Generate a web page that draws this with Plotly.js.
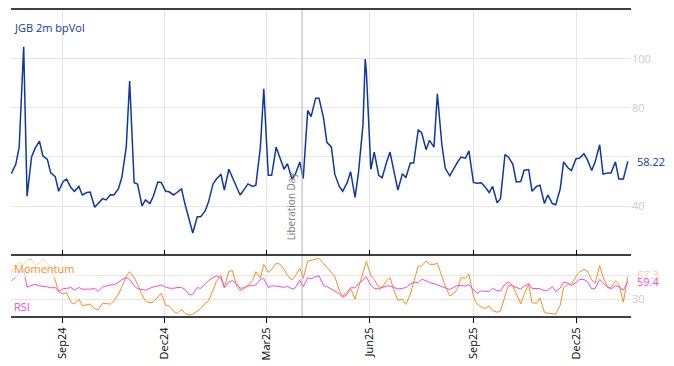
<!DOCTYPE html>
<html>
<head>
<meta charset="utf-8">
<script src="https://cdn.plot.ly/plotly-3.0.1.min.js"></script>
<style>html,body{margin:0;padding:0;background:#fff;}#chart{width:674px;height:366px;}</style>
</head>
<body>
<div id="chart"></div>
<script>
const dates = [
'2024-07-18','2024-07-22','2024-07-25','2024-07-29','2024-08-01','2024-08-05','2024-08-08','2024-08-12','2024-08-15','2024-08-19','2024-08-22','2024-08-26','2024-08-29',
'2024-09-02','2024-09-05','2024-09-09','2024-09-12','2024-09-16','2024-09-19','2024-09-23','2024-09-26','2024-09-30',
'2024-10-03','2024-10-07','2024-10-10','2024-10-14','2024-10-17','2024-10-21','2024-10-24','2024-10-28','2024-10-31',
'2024-11-04','2024-11-07','2024-11-11','2024-11-14','2024-11-18','2024-11-21','2024-11-25','2024-11-28',
'2024-12-02','2024-12-05','2024-12-09','2024-12-12','2024-12-16','2024-12-19','2024-12-23','2024-12-26','2024-12-30',
'2025-01-02','2025-01-06','2025-01-09','2025-01-13','2025-01-16','2025-01-20','2025-01-23','2025-01-27','2025-01-30',
'2025-02-03','2025-02-06','2025-02-10','2025-02-13','2025-02-17','2025-02-20','2025-02-24','2025-02-27',
'2025-03-03','2025-03-06','2025-03-10','2025-03-13','2025-03-17','2025-03-20','2025-03-24','2025-03-27','2025-03-31',
'2025-04-03','2025-04-07','2025-04-10','2025-04-14','2025-04-17','2025-04-21','2025-04-24','2025-04-28',
'2025-05-01','2025-05-05','2025-05-08','2025-05-12','2025-05-15','2025-05-19','2025-05-22','2025-05-26','2025-05-28','2025-05-29',
'2025-06-02','2025-06-05','2025-06-09','2025-06-12','2025-06-16','2025-06-19','2025-06-23','2025-06-26','2025-06-30',
'2025-07-03','2025-07-07','2025-07-10','2025-07-14','2025-07-17','2025-07-21','2025-07-24','2025-07-28','2025-07-31',
'2025-08-04','2025-08-07','2025-08-11','2025-08-14','2025-08-18','2025-08-21','2025-08-25','2025-08-28',
'2025-09-01','2025-09-04','2025-09-08','2025-09-11','2025-09-15','2025-09-18','2025-09-22','2025-09-25','2025-09-29',
'2025-10-02','2025-10-06','2025-10-09','2025-10-13','2025-10-16','2025-10-20','2025-10-23','2025-10-27','2025-10-30',
'2025-11-03','2025-11-06','2025-11-10','2025-11-13','2025-11-17','2025-11-20','2025-11-24','2025-11-27',
'2025-12-01','2025-12-04','2025-12-08','2025-12-11','2025-12-15','2025-12-18','2025-12-22','2025-12-25','2025-12-29',
'2026-01-01','2026-01-05','2026-01-08','2026-01-12','2026-01-16'
];

const bpVol = [
53.2,57,64,105,44,60,63.4,66.5,60.5,59,53.5,52,46,
50,51,47.4,46,48,44.5,45.5,45.7,39.5,
41,43,42.5,44.6,44.5,47,51.5,64,91,
49.5,49,40,42.5,41,44,49.8,49.6,
46,45.8,44.5,45.5,47,41,33.5,29,35.6,
35.6,38,41.7,49,51,53,46.5,55,52,
47.5,44.5,47,49,48,48.5,64,87.8,
52.5,52.5,64,60,55,57.3,51,53,58,
51.2,79,76.5,84,84,76,66,64,
53,48,46,49.5,54,43.5,53.5,73,100,95,
55,62,52.5,51.5,58,62,53,46.5,53.2,
51.5,57.5,57.5,71,70,63,66.8,64,85.8,
65,55.4,52.3,55,58,60,59.5,62.5,
49.6,49.3,49.5,48,45.5,48,41.3,43,61,
60,57,49.8,50,54.6,54.9,46,48,48.5,
41,44.5,41,40.5,47,58,55.5,54.5,
59.3,59.5,61.3,59,54.5,58,65,53,53.5,
53.5,58,51,51,58.22
];

const momentum = [
75,82,92,88,95,97,88,90,97,90,82,62,42,
39,41,24.4,21.7,30,18.9,20,21.7,14,
12,23,22,21.7,27,38,50,69,76,
66,55,37,27,24,25,33,40,
20,18,10,6,13,6,3,5,10,
14,22.8,27,45,60,70,49.4,76,78,
52,44,48,54,60.6,76,65,88,
75,80,90,89,80,70,62,69,81.5,
65,93.9,95,97,98.3,90,83,75,
68,45,34.5,42.5,48,30,49,77,88,93,
70,63,50,50,61,66,42,28,30,
21,38,60,85,85.6,93.9,88.5,88.3,90,
70,52,35.6,38,48,66,65,71.7,
35,22,17,14,18,11,8,10,35,
53.5,52,38,22,38,55,24,23,32,
8,6,6,5,20,49,55,55,
68,75,80,77,62,57,86,67,50,
49.4,60.6,55,25,67.3
];

const rsi = [
60.6,67,74,79,50,52.2,55,52.2,52,50.6,49,49.4,43,
47.5,48,49.4,45,49.4,46.7,46,46.7,48,
43,50.6,52.2,53.9,54,57.8,63,66,63,
52.2,47.5,46.7,45,48,50.6,52,53.9,
50,48.5,48,49.4,49.4,46.7,37,38.3,49.4,
48,55,61,66,69,65,49.4,58.6,61,
56,48,49.4,52,53,53.5,63,64.5,
49.4,52,52,51,49.7,51.5,47,49,61.7,
50.6,66,64,68,69,53,51,47,
44,39,33,37.5,49,49,56,62,67,67.2,
53,48,47,49,52,52,48.5,47,48,
49.4,55,58.4,57.5,63.3,61,57.8,56,54,
51,49.5,46,49.4,53,52.5,52.2,54,
45,40,44,43,43,48,44,44,55,
59,52,50,46.7,52,56,48,47,47.5,
44,45,51,43,48.5,58,57,52.5,
58,63,63,59.5,47,48,63,58,50,
46.7,52.5,51,45,59.4
];

const topTickVals = [40, 60, 80, 100];
const topTickText = ['40', '', '80', '100'];
const botTickVals = [30, 70];
const botTickText = ['30', ''];
const eventDate = '2025-04-02';
const eventLabel = 'Liberation Day';

const BLUE = '#0d37a3';
const ORANGE = '#ff8c1a';
const MAGENTA = '#ff45d9';
const xRange = ['2024-07-17 18:00', '2026-01-18 19:00'];
const split = 62 / 308;

const traces = [
  {x: dates, y: bpVol, type: 'scatter', mode: 'lines', xaxis: 'x', yaxis: 'y',
   line: {color: BLUE, width: 1.5}, hoverinfo: 'skip'},
  {x: dates, y: momentum, type: 'scatter', mode: 'lines', xaxis: 'x2', yaxis: 'y2',
   line: {color: ORANGE, width: 1}, hoverinfo: 'skip'},
  {x: dates, y: rsi, type: 'scatter', mode: 'lines', xaxis: 'x2', yaxis: 'y2',
   line: {color: MAGENTA, width: 1}, hoverinfo: 'skip'}
];

const grid = '#e6e6e6';
const frame = {color: '#000', width: 1.5};
const layout = {
  width: 674, height: 366,
  margin: {l: 11, r: 43, t: 9, b: 49, pad: 0},
  paper_bgcolor: '#fff', plot_bgcolor: '#fff',
  showlegend: false,
  font: {family: '"Open Sans", verdana, arial, sans-serif', size: 11, color: '#000'},
  xaxis: {domain: [0, 1], anchor: 'y', range: xRange, type: 'date',
    showticklabels: false, ticks: 'inside', ticklen: 5, tickcolor: '#000', tickwidth: 1,
    showline: false, showgrid: true, gridcolor: grid, tick0: '2024-09-01', dtick: 'M3', zeroline: false},
  yaxis: {domain: [split, 1], anchor: 'x', range: [20, 120.4], side: 'right',
    tickvals: topTickVals, ticktext: topTickText, showgrid: true, gridcolor: grid,
    zeroline: false, showline: false, ticks: '', tickfont: {color: '#cccccc', size: 11}},
  xaxis2: {domain: [0, 1], anchor: 'y2', range: xRange, type: 'date', matches: 'x',
    showline: false, ticks: 'outside', ticklen: 5, tickcolor: '#000', tickwidth: 1,
    tick0: '2024-09-01', dtick: 'M3', tickformat: '%b%y', tickangle: -90,
    tickfont: {size: 11, color: '#000'}, showgrid: true, gridcolor: grid, zeroline: false},
  yaxis2: {domain: [0, split], anchor: 'x2', range: [0, 104], side: 'right',
    tickvals: botTickVals, ticktext: botTickText, showgrid: true, gridcolor: grid,
    zeroline: false, showline: false, ticks: '', tickfont: {color: '#cccccc', size: 11}},
  shapes: [
    {type: 'line', xref: 'x', x0: eventDate, x1: eventDate, yref: 'paper', y0: 0, y1: 1,
     line: {color: '#b4b4b4', width: 1}, layer: 'above'},
    {type: 'line', xref: 'paper', x0: 0, x1: 1, yref: 'paper', y0: 1, y1: 1, line: frame, layer: 'above'},
    {type: 'line', xref: 'paper', x0: 0, x1: 1, yref: 'paper', y0: split, y1: split, line: frame, layer: 'above'},
    {type: 'line', xref: 'paper', x0: 0, x1: 1, yref: 'paper', y0: 0, y1: 0, line: frame, layer: 'above'}
  ],
  annotations: [
    {text: 'JGB 2m bpVol', xref: 'paper', x: 0, xanchor: 'left', xshift: 1,
     yref: 'paper', y: 1, yanchor: 'top', yshift: -9, showarrow: false,
     font: {color: BLUE, size: 11}},
    {text: 'Momentum', xref: 'paper', x: 0, xanchor: 'left', xshift: 1,
     yref: 'y2', y: 81.7, yanchor: 'middle', showarrow: false,
     bgcolor: 'rgba(255,255,255,0.65)', font: {color: ORANGE, size: 11}},
    {text: 'RSI', xref: 'paper', x: 0, xanchor: 'left', xshift: 1,
     yref: 'y2', y: 18.3, yanchor: 'middle', showarrow: false,
     font: {color: MAGENTA, size: 11}},
    {text: String(bpVol[bpVol.length - 1]), xref: 'paper', x: 1, xanchor: 'left', xshift: 4,
     yref: 'y', y: bpVol[bpVol.length - 1], yanchor: 'middle', showarrow: false,
     bgcolor: '#fff', font: {color: BLUE, size: 11}},
    {text: String(momentum[momentum.length - 1]), xref: 'paper', x: 1, xanchor: 'left', xshift: 4,
     yref: 'y2', y: momentum[momentum.length - 1], yanchor: 'middle', yshift: 2, showarrow: false,
     font: {color: 'rgba(255,140,26,0.5)', size: 11}},
    {text: String(rsi[rsi.length - 1]), xref: 'paper', x: 1, xanchor: 'left', xshift: 4,
     yref: 'y2', y: rsi[rsi.length - 1], yanchor: 'middle', showarrow: false,
     font: {color: MAGENTA, size: 11}},
    {text: eventLabel, xref: 'x', x: eventDate, xanchor: 'right', xshift: -2,
     yref: 'y', y: 25, yanchor: 'bottom', textangle: -90, showarrow: false,
     font: {color: '#7a7a7a', size: 10}}
  ]
};

Plotly.newPlot('chart', traces, layout, {staticPlot: true, displayModeBar: false});
</script>
</body>
</html>
